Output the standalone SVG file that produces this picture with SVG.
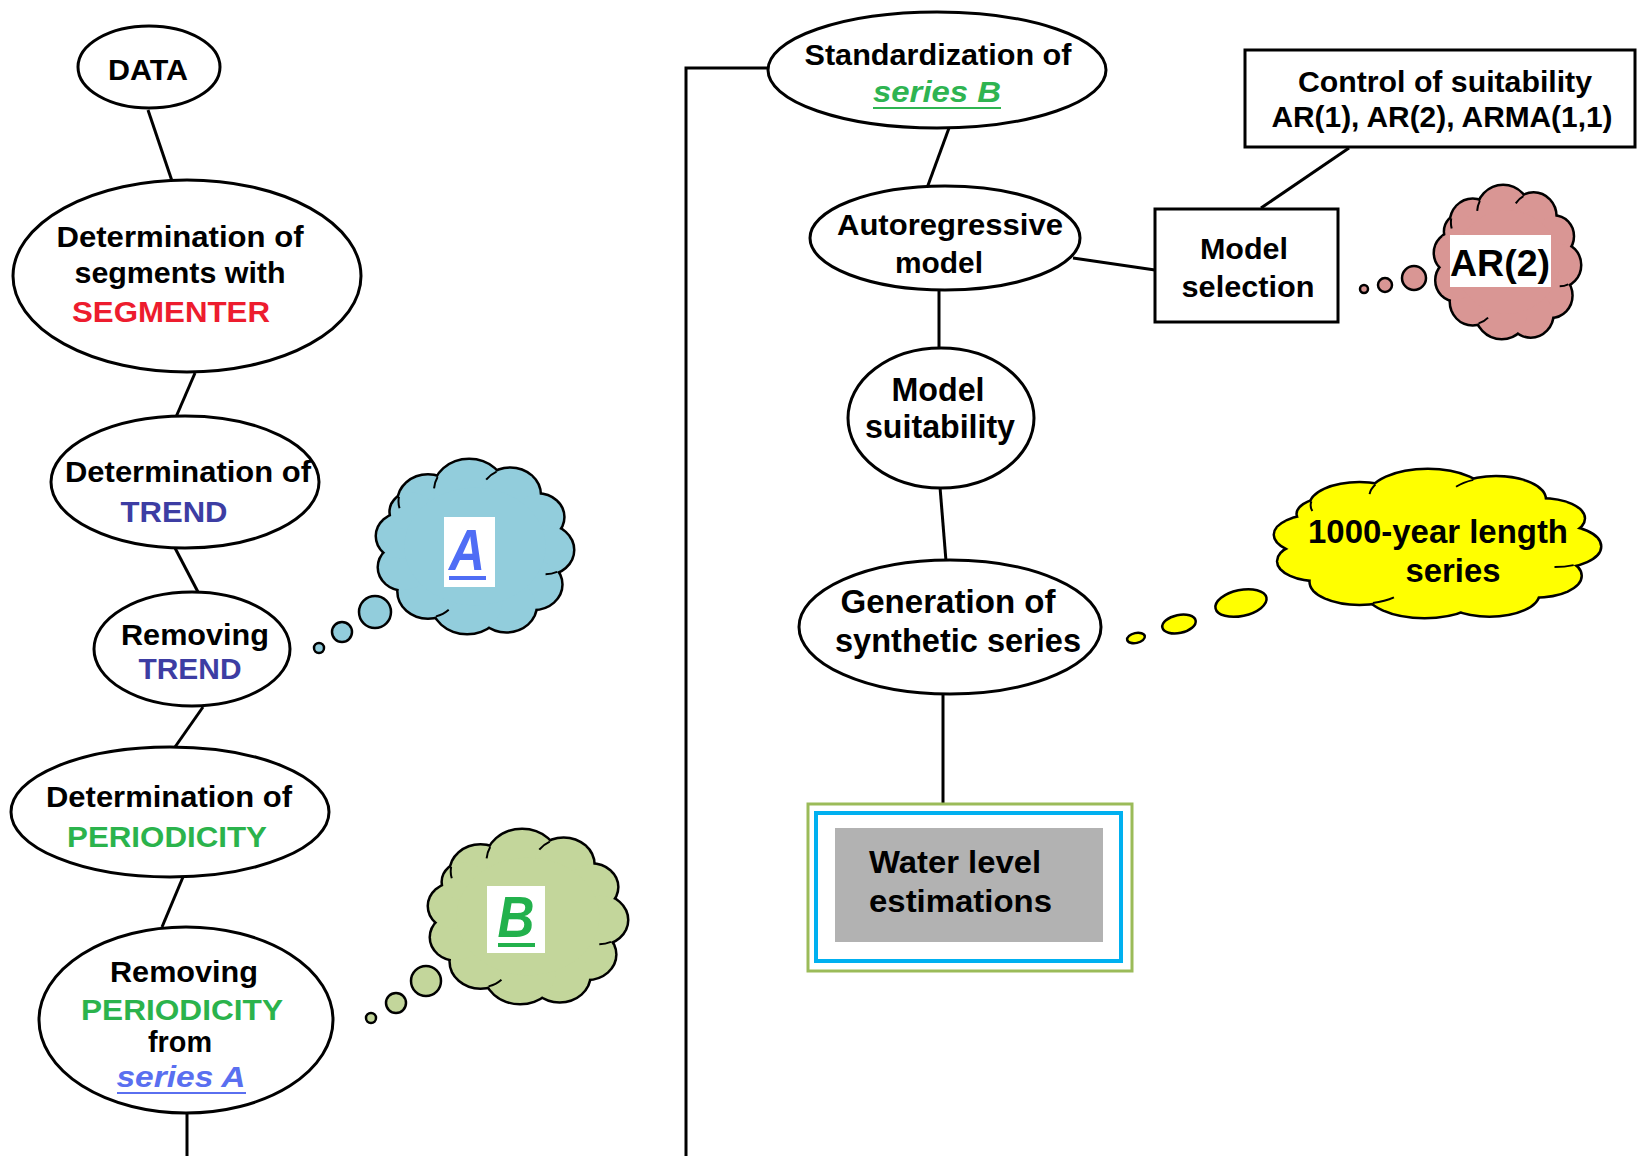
<svg xmlns="http://www.w3.org/2000/svg" xmlns:xlink="http://www.w3.org/1999/xlink" width="1638" height="1156" viewBox="0 0 1638 1156">
<style>
.bg{fill:#fff}
.nd{fill:#fff;stroke:#000;stroke-width:3}
.box{fill:#fff;stroke:#000;stroke-width:3}
.cn{stroke:#000;stroke-width:3;fill:none}
.cc{vector-effect:non-scaling-stroke}
.ci{stroke:#000;stroke-width:2;fill:none;vector-effect:non-scaling-stroke}
.bub{stroke:#000;stroke-width:2.5}
.t{font-family:"Liberation Sans",Arial,sans-serif;font-weight:bold;font-size:29px;text-anchor:middle;fill:#000}
.n{font-family:"Liberation Sans Narrow","Liberation Sans",Arial,sans-serif;font-weight:bold;font-size:33px;text-anchor:middle;fill:#000}
.red{fill:#ED1C2E}
.blu{fill:#3D3DA3}
.grn{fill:#2BB34C}
.sa{fill:#5A6FF0;font-style:italic}
.sb{fill:#2EB451;font-style:italic}
</style>
<defs>
<g id="cc">
<circle class="cc" cx="26" cy="24" r="15"/>
<circle class="cc" cx="47" cy="18" r="18"/>
<circle class="cc" cx="68" cy="20" r="15"/>
<circle class="cc" cx="82" cy="33" r="13"/>
<circle class="cc" cx="86" cy="52" r="14"/>
<circle class="cc" cx="80" cy="72" r="14"/>
<circle class="cc" cx="66" cy="84" r="15"/>
<circle class="cc" cx="46" cy="82" r="18"/>
<circle class="cc" cx="26" cy="76" r="15"/>
<circle class="cc" cx="14" cy="62" r="13"/>
<circle class="cc" cx="13" cy="44" r="13"/>
<circle class="cc" cx="18" cy="30" r="11"/>
<ellipse cx="50" cy="50" rx="36" ry="34" stroke="none"/>
</g>
<g id="cloud">
<use xlink:href="#cc" href="#cc" stroke="#000" stroke-width="5"/>
<use xlink:href="#cc" href="#cc" stroke="none"/>
<path class="ci" d="M30.9,9.8 A18,18 0 0 0 29.1,16.4 M61,6.7 A15,15 0 0 0 55.7,11.4 M91.9,64.7 A14,14 0 0 1 86,66 M30.1,90.4 A15,15 0 0 0 36.6,86.6 M11.2,21.3 A15,15 0 0 0 11.5,27.9"/>
</g>
</defs>
<rect class="bg" x="0" y="0" width="1638" height="1156"/>

<g id="connectors">
<line class="cn" x1="148" y1="110" x2="172" y2="181"/>
<line class="cn" x1="195" y1="373" x2="176" y2="417"/>
<line class="cn" x1="175" y1="548" x2="198" y2="592"/>
<line class="cn" x1="203" y1="707" x2="175" y2="747"/>
<line class="cn" x1="183" y1="877" x2="162" y2="927"/>
<line class="cn" x1="187" y1="1113" x2="187" y2="1156"/>
<polyline class="cn" points="769,68 686,68 686,1156"/>
<line class="cn" x1="949" y1="128" x2="927" y2="188"/>
<line class="cn" x1="1073" y1="258" x2="1155" y2="270"/>
<line class="cn" x1="1349" y1="148" x2="1261" y2="208"/>
<line class="cn" x1="939" y1="290" x2="939" y2="349"/>
<line class="cn" x1="940" y1="487" x2="946" y2="561"/>
<line class="cn" x1="943" y1="693" x2="943" y2="804"/>
</g>

<g id="data">
<ellipse class="nd" cx="149" cy="67" rx="71" ry="41"/>
<text class="t" x="148" y="80" style="font-size:30px" textLength="80" lengthAdjust="spacingAndGlyphs">DATA</text>
</g>

<g id="segments">
<ellipse class="nd" cx="187" cy="276" rx="174" ry="96"/>
<text class="t" x="180" y="247" textLength="247" lengthAdjust="spacingAndGlyphs">Determination of</text>
<text class="t" x="180" y="283" textLength="211" lengthAdjust="spacingAndGlyphs">segments with</text>
<text class="t red" x="171" y="322" textLength="198" lengthAdjust="spacingAndGlyphs">SEGMENTER</text>
</g>

<g id="trend">
<ellipse class="nd" cx="185" cy="482" rx="134" ry="66"/>
<text class="t" x="188" y="482" textLength="246" lengthAdjust="spacingAndGlyphs">Determination of</text>
<text class="t blu" x="174" y="522" textLength="107" lengthAdjust="spacingAndGlyphs">TREND</text>
</g>

<g id="removing-trend">
<ellipse class="nd" cx="192" cy="649" rx="98" ry="57"/>
<text class="t" x="195" y="645" textLength="148" lengthAdjust="spacingAndGlyphs">Removing</text>
<text class="t blu" x="190" y="679" textLength="103" lengthAdjust="spacingAndGlyphs">TREND</text>
</g>

<g id="periodicity">
<ellipse class="nd" cx="170" cy="812" rx="159" ry="65"/>
<text class="t" x="169" y="807" textLength="246" lengthAdjust="spacingAndGlyphs">Determination of</text>
<text class="t grn" x="167" y="847" textLength="200" lengthAdjust="spacingAndGlyphs">PERIODICITY</text>
</g>

<g id="removing-periodicity">
<ellipse class="nd" cx="186" cy="1020" rx="147" ry="93"/>
<text class="t" x="184" y="982" textLength="148" lengthAdjust="spacingAndGlyphs">Removing</text>
<text class="t grn" x="182" y="1020" textLength="202" lengthAdjust="spacingAndGlyphs">PERIODICITY</text>
<text class="t" x="180" y="1052" textLength="64" lengthAdjust="spacingAndGlyphs">from</text>
<text class="t sa" x="181" y="1087" textLength="129" lengthAdjust="spacingAndGlyphs">series A</text>
<line x1="117" y1="1093" x2="246" y2="1093" stroke="#5A6FF0" stroke-width="2"/>
</g>

<g id="cloud-a">
<circle class="bub" cx="319" cy="648" r="5" fill="#92CDDC"/>
<circle class="bub" cx="342" cy="632" r="10" fill="#92CDDC"/>
<circle class="bub" cx="375" cy="612" r="16" fill="#92CDDC"/>
<use xlink:href="#cloud" href="#cloud" fill="#92CDDC" transform="translate(377,460) scale(1.96,1.73)"/>
<rect x="444" y="517" width="51" height="70" fill="#fff"/>
<text class="t" x="467" y="570" style="font-size:58px;font-style:italic;fill:#4F6DF5" textLength="36" lengthAdjust="spacingAndGlyphs">A</text>
<line x1="449" y1="578" x2="486" y2="578" stroke="#4F6DF5" stroke-width="4"/>
</g>

<g id="cloud-b">
<circle class="bub" cx="371" cy="1018" r="5" fill="#C3D69B"/>
<circle class="bub" cx="396" cy="1003" r="10" fill="#C3D69B"/>
<circle class="bub" cx="426" cy="981" r="15" fill="#C3D69B"/>
<use xlink:href="#cloud" href="#cloud" fill="#C3D69B" transform="translate(429,830) scale(1.98,1.73)"/>
<rect x="487" y="886" width="58" height="67" fill="#fff"/>
<text class="t" x="516" y="937" style="font-size:58px;font-style:italic;fill:#22B14C" textLength="37" lengthAdjust="spacingAndGlyphs">B</text>
<line x1="498" y1="945" x2="535" y2="945" stroke="#22B14C" stroke-width="4"/>
</g>

<g id="standardization">
<ellipse class="nd" cx="937" cy="70" rx="169" ry="58"/>
<text class="t" x="938" y="65" textLength="267" lengthAdjust="spacingAndGlyphs">Standardization of</text>
<text class="t sb" x="937" y="102" textLength="128" lengthAdjust="spacingAndGlyphs">series B</text>
<line x1="873" y1="108" x2="1001" y2="108" stroke="#2EB451" stroke-width="2"/>
</g>

<g id="autoregressive">
<ellipse class="nd" cx="945" cy="238" rx="135" ry="52"/>
<text class="t" x="950" y="235" textLength="226" lengthAdjust="spacingAndGlyphs">Autoregressive</text>
<text class="t" x="939" y="273" textLength="88" lengthAdjust="spacingAndGlyphs">model</text>
</g>

<g id="control">
<rect class="box" x="1245" y="50" width="390" height="97"/>
<text class="t" x="1445" y="92" textLength="294" lengthAdjust="spacingAndGlyphs">Control of suitability</text>
<text class="t" x="1442" y="127" textLength="341" lengthAdjust="spacingAndGlyphs">AR(1), AR(2), ARMA(1,1)</text>
</g>

<g id="model-selection">
<rect class="box" x="1155" y="209" width="183" height="113"/>
<text class="t" x="1244" y="259" textLength="88" lengthAdjust="spacingAndGlyphs">Model</text>
<text class="t" x="1248" y="297" textLength="133" lengthAdjust="spacingAndGlyphs">selection</text>
</g>

<g id="cloud-ar2">
<circle class="bub" cx="1364" cy="289" r="4" fill="#D99694"/>
<circle class="bub" cx="1385" cy="285" r="7" fill="#D99694"/>
<circle class="bub" cx="1414" cy="278" r="12" fill="#D99694"/>
<use xlink:href="#cloud" href="#cloud" fill="#D99694" transform="translate(1435,186) scale(1.45,1.52)"/>
<rect x="1450" y="235" width="101" height="52" fill="#fff"/>
<text class="t" x="1500" y="276" style="font-size:37px" textLength="100" lengthAdjust="spacingAndGlyphs">AR(2)</text>
</g>

<g id="model-suitability">
<ellipse class="nd" cx="941" cy="418" rx="93" ry="70"/>
<text class="n" x="938" y="401" style="font-size:34px" textLength="93" lengthAdjust="spacingAndGlyphs">Model</text>
<text class="n" x="940" y="438" style="font-size:34px" textLength="150" lengthAdjust="spacingAndGlyphs">suitability</text>
</g>

<g id="generation">
<ellipse class="nd" cx="950" cy="627" rx="151" ry="67"/>
<text class="n" x="948" y="613" textLength="215" lengthAdjust="spacingAndGlyphs">Generation of</text>
<text class="n" x="958" y="652" textLength="246" lengthAdjust="spacingAndGlyphs">synthetic series</text>
</g>

<g id="cloud-1000">
<ellipse class="bub" cx="1136" cy="638" rx="9" ry="5" fill="#FFFF00" transform="rotate(-12 1136 638)"/>
<ellipse class="bub" cx="1179" cy="624" rx="17" ry="9" fill="#FFFF00" transform="rotate(-12 1179 624)"/>
<ellipse class="bub" cx="1241" cy="603" rx="26" ry="13" fill="#FFFF00" transform="rotate(-12 1241 603)"/>
<use xlink:href="#cloud" href="#cloud" fill="#FFFF00" transform="translate(1275,470) scale(3.25,1.47)"/>
<text class="n" x="1438" y="543" textLength="260" lengthAdjust="spacingAndGlyphs">1000-year length</text>
<text class="n" x="1453" y="582" textLength="95" lengthAdjust="spacingAndGlyphs">series</text>
</g>

<g id="water-level">
<rect x="808" y="804" width="324" height="167" fill="#fff" stroke="#9BBB59" stroke-width="3"/>
<rect x="816" y="813" width="305" height="148" fill="#fff" stroke="#00B0F0" stroke-width="4"/>
<rect x="835" y="828" width="268" height="114" fill="#B2B2B2"/>
<text class="t" x="869" y="873" style="font-size:32px;text-anchor:start" textLength="172" lengthAdjust="spacingAndGlyphs">Water level</text>
<text class="t" x="869" y="912" style="font-size:32px;text-anchor:start" textLength="183" lengthAdjust="spacingAndGlyphs">estimations</text>
</g>
</svg>
